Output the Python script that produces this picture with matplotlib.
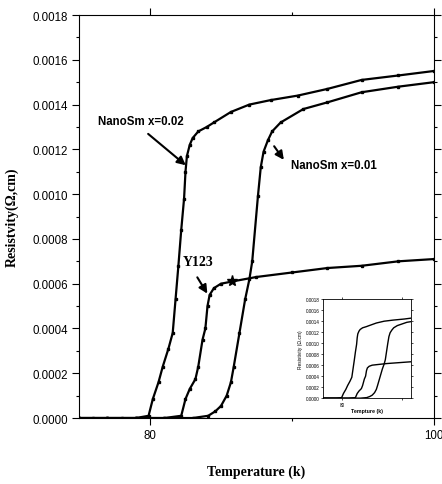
# resistivity vs temperature for Y123 and nano Sm samples, with inset

import matplotlib
matplotlib.use('Agg')
import matplotlib.pyplot as plt
from matplotlib.ticker import MultipleLocator, FormatStrFormatter

# NanoSm x=0.02
t_02 = [75, 76, 77, 78, 79, 79.9, 80.2, 80.6, 80.9, 81.3, 81.6, 81.8, 82.0, 82.2,
        82.4, 82.5, 82.6, 82.8, 83.0, 83.4, 84.0, 84.5, 85.7, 87.0, 88.5, 90.4,
        92.5, 94.9, 97.5, 100]
r_02 = [0, 0, 0, 0, 0, 0.00001, 0.000085, 0.00016, 0.00023, 0.00031, 0.00038,
        0.00053, 0.00068, 0.00084, 0.00098, 0.00110, 0.00117, 0.00122, 0.00125,
        0.00128, 0.00130, 0.00132, 0.001367, 0.00140, 0.00142, 0.00144, 0.00147,
        0.00151, 0.00153, 0.00155]

# NanoSm x=0.01
t_01 = [75, 77, 79, 81, 83, 84.1, 84.6, 85.0, 85.4, 85.7, 85.9, 86.3, 86.7, 87.0,
        87.2, 87.6, 87.8, 88.0, 88.3, 88.6, 89.2, 90.8, 92.5, 94.9, 97.5, 100]
r_01 = [0, 0, 0, 0, 0, 0.00001, 0.00003, 0.000054, 0.00010, 0.00016, 0.00023,
        0.00038, 0.00053, 0.00062, 0.00070, 0.00099, 0.00112, 0.00119, 0.00124,
        0.00128, 0.00132, 0.00138, 0.00141, 0.001455, 0.00148, 0.00150]

# Y123
t_y = [75, 77, 79, 81, 82.2, 82.5, 82.8, 83.2, 83.4, 83.7, 83.9, 84.05, 84.2,
       84.5, 85.0, 85.8, 87.5, 90, 92.5, 94.9, 97.5, 100]
r_y = [0, 0, 0, 0, 0.00001, 0.000085, 0.00013, 0.000174, 0.00023, 0.00035,
       0.00040, 0.00050, 0.00055, 0.00058, 0.00060, 0.00061, 0.00063, 0.00065,
       0.00067, 0.00068, 0.00070, 0.00071]
spike_t = [85.8]
spike_r = [0.00061]

series = [(t_02, r_02), (t_01, r_01), (t_y, r_y)]

sans = ['Liberation Sans', 'DejaVu Sans']
serif = ['Liberation Serif', 'DejaVu Serif']

fig = plt.figure(figsize=(4.42, 4.85), dpi=100)
ax = fig.add_axes([0.1787, 0.136, 0.8032, 0.831])

for t, r in series:
    ax.plot(t, r, color='k', lw=1.6, marker='s', ms=1.8)
ax.plot(spike_t, spike_r, color='k', marker='*', ms=8, ls='none')

ax.set_xlim(75, 100)
ax.set_ylim(0, 0.0018)
ax.set_xticks([80, 100])
ax.xaxis.set_minor_locator(MultipleLocator(10))
ax.yaxis.set_major_locator(MultipleLocator(0.0002))
ax.yaxis.set_minor_locator(MultipleLocator(0.0001))
ax.yaxis.set_major_formatter(FormatStrFormatter('%.4f'))
ax.tick_params(which='major', direction='out', length=5, width=0.8, pad=3)
ax.tick_params(which='minor', direction='out', length=2.5, width=0.8)
ax.tick_params(right=True, top=True, which='both')
for lab in ax.get_xticklabels() + ax.get_yticklabels():
    lab.set_family(sans)
    lab.set_fontsize(8.3)

ax.set_xlabel('Temperature (k)', family=serif, fontweight='bold', fontsize=10,
              labelpad=17)
ax.set_ylabel('Resistvity(Ω,cm)', family=serif, fontweight='bold', fontsize=10,
              labelpad=10)

arrow = dict(arrowstyle='-|>,head_length=0.5,head_width=0.25', color='k', lw=1.5)
ax.annotate('', xy=(82.67, 0.001121), xytext=(79.72, 0.001277), arrowprops=arrow)
ax.text(79.37, 0.001327, 'NanoSm x=0.02', family=sans, fontweight='bold',
        fontsize=8.3, ha='center', va='center')
ax.annotate('', xy=(89.54, 0.001143), xytext=(88.63, 0.001224), arrowprops=arrow)
ax.text(89.9, 0.00113, 'NanoSm x=0.01', family=sans, fontweight='bold',
        fontsize=8.3, ha='left', va='center')
ax.annotate('', xy=(84.14, 0.000545), xytext=(83.23, 0.000639), arrowprops=arrow)
ax.text(83.37, 0.000697, 'Y123', family=serif, fontweight='bold',
        fontsize=10, ha='center', va='center')

# inset
ins = fig.add_axes([0.731, 0.177, 0.199, 0.204])
for t, r in series:
    ins.plot(t, r, color='k', lw=1.0)
ins.set_xlim(76.8, 91.5)
ins.set_ylim(0, 0.0018)
ins.set_xticks([80, 90])
ins.set_xticklabels(['80', ''])
ins.yaxis.set_major_locator(MultipleLocator(0.0002))
ins.yaxis.set_major_formatter(FormatStrFormatter('%.4f'))
ins.tick_params(labelsize=3.3, length=1.5, width=0.5, pad=1)
ins.tick_params(right=True, top=True)
for lab in ins.get_xticklabels() + ins.get_yticklabels():
    lab.set_family(sans)
ins.set_xlabel('Tempture (k)', fontsize=3.8, family=sans, fontweight='bold', labelpad=1)
ins.set_ylabel('Resistivity (Ω.cm)', fontsize=3.5, family=sans, labelpad=2)
for s in ins.spines.values():
    s.set_linewidth(0.6)

fig.savefig('out.png', dpi=100)
